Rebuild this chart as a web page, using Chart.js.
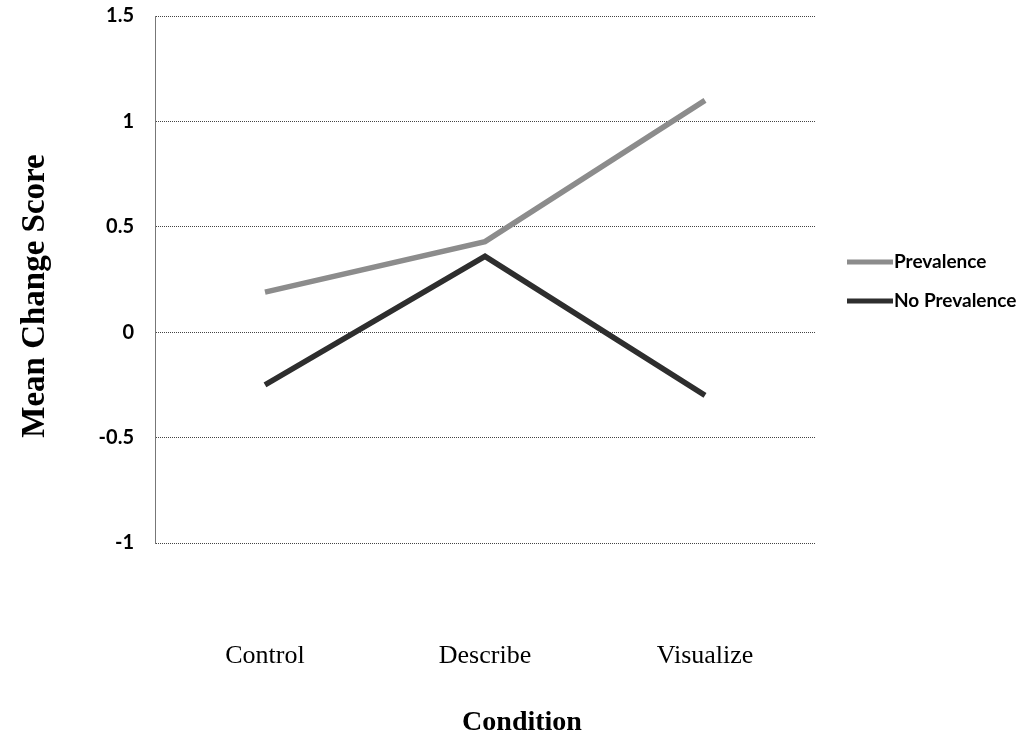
<!DOCTYPE html>
<html lang="en">
<head>
    <meta charset="UTF-8">
    <title>Mean Change Score by Condition</title>
    <script src="https://cdn.jsdelivr.net/npm/chart.js"></script>
    <style>
        html, body {
            margin: 0;
            padding: 0;
            background-color: #ffffff;
        }
        .chart-container {
            width: 1033px;
            height: 742px;
        }
    </style>
</head>
<body>

    <div class="chart-container">
        <canvas id="changeChart"></canvas>
    </div>

    <script>
        // valores
        const conditions = ['Control', 'Describe', 'Visualize'];
        const prevalence = [0.19, 0.43, 1.1];
        const noPrevalence = [-0.25, 0.36, -0.3];
        const yTicks = [-1, -0.5, 0, 0.5, 1, 1.5];

        // leyenda y títulos de ejes dibujados a mano
        const labelsPlugin = {
            id: 'labelsPlugin',
            afterDraw(chart) {
                const ctx = chart.ctx;
                ctx.save();

                // leyenda
                ctx.font = 'bold 19px Lato, "Open Sans", sans-serif';
                ctx.textBaseline = 'middle';
                ctx.textAlign = 'left';
                const rows = [262, 301];
                chart.data.datasets.forEach((ds, i) => {
                    const y = rows[i];
                    ctx.strokeStyle = ds.borderColor;
                    ctx.lineWidth = 5;
                    ctx.beginPath();
                    ctx.moveTo(847, y);
                    ctx.lineTo(893, y);
                    ctx.stroke();
                    ctx.fillStyle = '#000';
                    ctx.fillText(ds.label, 894, y);
                });

                // título eje X
                ctx.font = 'bold 28px "Liberation Serif", "DejaVu Serif", serif';
                ctx.textAlign = 'center';
                ctx.fillText('Condition', 522, 723);

                // título eje Y
                ctx.translate(35, 296);
                ctx.rotate(-Math.PI / 2);
                ctx.font = 'bold 33px "Liberation Serif", "DejaVu Serif", serif';
                ctx.fillText('Mean Change Score', 0, 0);

                ctx.restore();
            }
        };

        const ctx = document.getElementById('changeChart').getContext('2d');
        const myChart = new Chart(ctx, {
            type: 'line',
            data: {
                labels: conditions,
                datasets: [
                    {
                        label: 'Prevalence',
                        data: prevalence,
                        borderColor: '#8c8c8c',
                        borderWidth: 5.5,
                        pointRadius: 0,
                        tension: 0,
                        fill: false
                    },
                    {
                        label: 'No Prevalence',
                        data: noPrevalence,
                        borderColor: '#2e2e2e',
                        borderWidth: 5.5,
                        pointRadius: 0,
                        tension: 0,
                        fill: false
                    }
                ]
            },
            options: {
                responsive: true,
                maintainAspectRatio: false,
                animation: false,
                layout: {
                    padding: { top: 16, right: 218, bottom: 0, left: 0 }
                },
                plugins: {
                    legend: { display: false },
                    tooltip: { enabled: false }
                },
                scales: {
                    x: {
                        offset: true,
                        grid: { display: false },
                        border: { display: false },
                        ticks: {
                            padding: 90,
                            color: '#000',
                            font: { family: '"Liberation Serif", "DejaVu Serif", serif', size: 26 }
                        },
                        afterFit(scale) { scale.height = 199; }
                    },
                    y: {
                        min: -1,
                        max: 1.5,
                        afterBuildTicks(scale) {
                            scale.ticks = yTicks.map(v => ({ value: v }));
                        },
                        grid: {
                            color: '#444',
                            lineWidth: 1,
                            drawTicks: false
                        },
                        border: {
                            display: true,
                            color: '#777',
                            width: 1,
                            dash: [1, 1]
                        },
                        ticks: {
                            padding: 21,
                            color: '#000',
                            font: { family: 'Lato, "Open Sans", sans-serif', size: 20, weight: 'bold' },
                            callback: value => String(value)
                        },
                        afterFit(scale) {
                            scale.width = 155;
                            scale.paddingTop = 0;
                            scale.paddingBottom = 0;
                        }
                    }
                }
            },
            plugins: [labelsPlugin]
        });
    </script>

</body>
</html>
